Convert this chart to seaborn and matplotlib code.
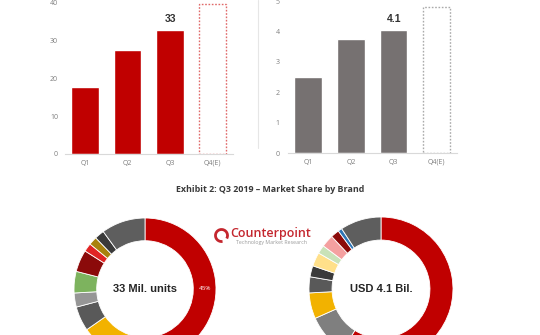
import matplotlib
matplotlib.use("Agg")
import matplotlib.pyplot as plt
import seaborn as sns
import pandas as pd
from matplotlib.patches import Arc
from matplotlib.lines import Line2D

# ---------------- data ----------------
quarters = ["Q1", "Q2", "Q3", "Q4(E)"]
units_mil = [17.6, 27.4, 32.7, 39.6]
revenue_bil = [2.5, 3.75, 4.05, 4.8]
units_label = ["", "", "33", ""]
revenue_label = ["", "", "4.1", ""]

# donut shares (clockwise from 12 o'clock)
units_share = [45, 4.3, 6, 10, 5.6, 3.2, 4.9, 5.0, 1.9, 1.9, 2.2, 10]
units_colors = ["#C00000", "#A6A6A6", "#7F7F7F", "#F2B200", "#595959", "#969696",
                "#7DB35E", "#8B0A0A", "#E02424", "#A8820E", "#3A3A3A", "#5E5E5E"]
rev_share = [59, 9.4, 5.8, 3.6, 2.5, 3.1, 1.9, 2.8, 1.9, 0.9, 9.2]
rev_colors = ["#C00000", "#7F7F7F", "#F2B200", "#595959", "#3A3A3A", "#FFE08A",
              "#C9E2B8", "#F4A0A0", "#8B0A0A", "#2E75B6", "#5E5E5E"]

sns.set_theme(style="white")
plt.rcParams["font.family"] = ["Open Sans", "DejaVu Sans"]

fig = plt.figure(figsize=(5.4, 3.35), dpi=100)
W, H = 540, 335

def bar_panel(rect, values, labels, color, q4_edge, ymax, yticks, pad_y):
    ax = fig.add_axes(rect)
    df = pd.DataFrame({"q": quarters, "v": values})
    sns.barplot(data=df, x="q", y="v", order=quarters, color=color,
                saturation=1, width=0.64, ax=ax)
    p4 = ax.patches[3]
    p4.set_facecolor("white")
    p4.set_edgecolor(q4_edge)
    p4.set_linestyle((0, (1.2, 1.2)))
    p4.set_linewidth(1.0)
    ax.bar_label(ax.containers[0], labels=labels, padding=4, fontsize=7.5,
                 fontweight="bold", color="#333333", family="Liberation Sans")
    ax.set_ylim(0, ymax)
    ax.set_xlim(-0.47, 3.48)
    ax.set_yticks(yticks)
    ax.set_xlabel("")
    ax.set_ylabel("")
    for s in ["top", "right", "left"]:
        ax.spines[s].set_visible(False)
    ax.spines["bottom"].set_color("#D9D9D9")
    ax.spines["bottom"].set_linewidth(0.8)
    ax.tick_params(axis="both", length=0, labelsize=5, colors="#7F7F7F")
    ax.tick_params(axis="y", pad=pad_y)
    ax.tick_params(axis="x", pad=4)
    ax.set_facecolor("none")
    return ax

bar_panel([65 / W, (H - 154) / H, 168 / W, 151.7 / H], units_mil, units_label,
          "#C00000", "#E06A6A", 40, [0, 10, 20, 30, 40], 5)
bar_panel([288 / W, (H - 153.3) / H, 169 / W, 152.3 / H], revenue_bil, revenue_label,
          "#767171", "#AAAAAA", 5, [0, 1, 2, 3, 4, 5], 6)

# donuts
def donut(cx, cy, R, shares, colors, center_text):
    ax = fig.add_axes([(cx - R) / W, (H - cy - R) / H, 2 * R / W, 2 * R / H])
    ax.pie(shares, colors=colors, startangle=90, counterclock=False, radius=1,
           wedgeprops=dict(width=0.32, edgecolor="white", linewidth=0.6))
    ax.set_xlim(-1, 1)
    ax.set_ylim(-1, 1)
    ax.set_aspect("equal")
    ax.axis("off")
    ax.text(0, 0, center_text, ha="center", va="center", fontsize=8,
            fontweight="bold", color="#262626", family="Liberation Sans")
    return ax

axd1 = donut(145, 289, 71, units_share, units_colors, "33 Mil. units")
axd1.text(0.84, 0.0, "45%", ha="center", va="center", fontsize=4.5, color="white")
donut(381, 289, 72, rev_share, rev_colors, "USD 4.1 Bil.")

# overlay for text/logo in pixel coordinates
ov = fig.add_axes([0, 0, 1, 1])
ov.set_xlim(0, W)
ov.set_ylim(H, 0)
ov.axis("off")
ov.set_zorder(-1)
ov.add_line(Line2D([258, 258], [0, 148], color="#E6E6E6", lw=0.8))
ov.text(270, 190, "Exhibit 2: Q3 2019 \u2013 Market Share by Brand", ha="center",
        va="center", fontsize=6.4, fontweight="bold", color="#3A3A3A")
ov.add_patch(Arc((221.5, 235.5), 12, 12, theta1=80, theta2=390, color="#C4262E", lw=2))
ov.text(271, 233.5, "Counterpoint", ha="center", va="center", fontsize=9,
        fontweight="semibold", color="#C4262E")
ov.text(271, 242.5, "Technology Market Research", ha="center", va="center",
        fontsize=3.8, color="#9A9A9A")

fig.savefig("out.png", dpi=100)
